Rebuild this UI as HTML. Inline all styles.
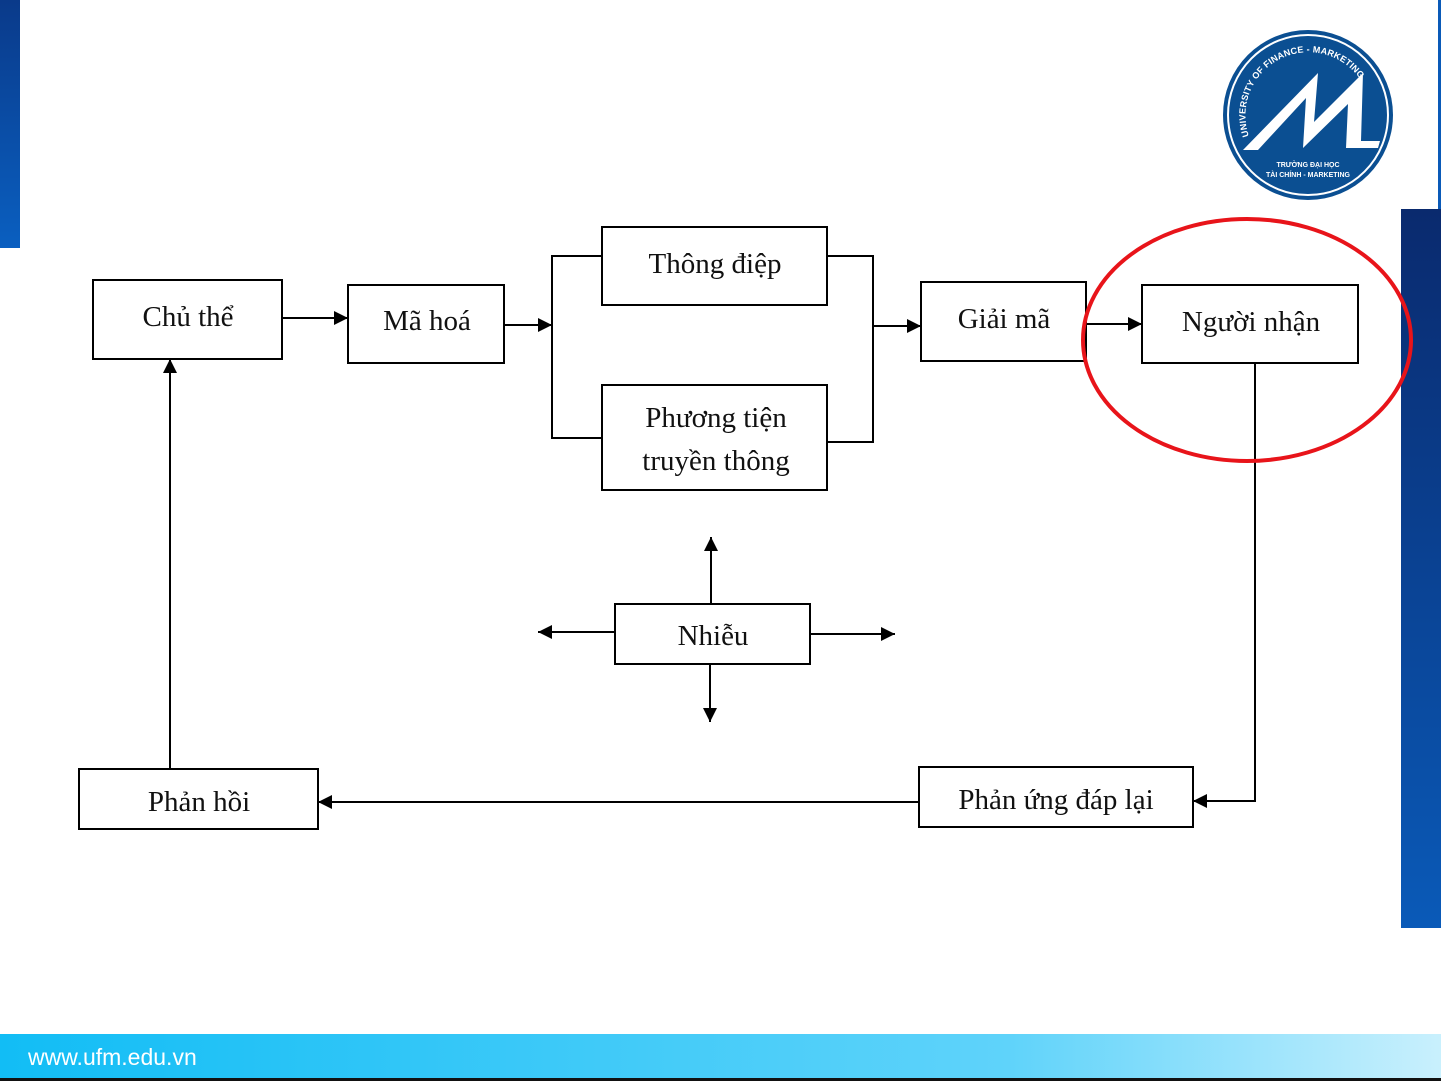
<!DOCTYPE html>
<html><head><meta charset="utf-8"><style>
html,body{margin:0;padding:0;background:#fff;}
body{width:1441px;height:1081px;overflow:hidden;position:relative;}
svg{position:absolute;left:0;top:0;}
text{font-family:"Liberation Serif","DejaVu Serif",serif;font-size:29px;fill:#111;}
</style></head><body>
<svg width="1441" height="1081" viewBox="0 0 1441 1081">
<defs>
<linearGradient id="lb" x1="0" y1="0" x2="0" y2="1"><stop offset="0" stop-color="#0a3a8a"/><stop offset="1" stop-color="#0a5fc0"/></linearGradient>
<linearGradient id="rb" x1="0" y1="0" x2="0" y2="1"><stop offset="0" stop-color="#0a2a6e"/><stop offset="1" stop-color="#0a5ab8"/></linearGradient>
<linearGradient id="bb" x1="0" y1="0" x2="1" y2="0"><stop offset="0" stop-color="#12bdf5"/><stop offset="0.7" stop-color="#5fd3fa"/><stop offset="1" stop-color="#c9f0fd"/></linearGradient>
<marker id="ah" viewBox="0 0 10 10" refX="10" refY="5" markerWidth="16" markerHeight="14" markerUnits="userSpaceOnUse" orient="auto"><path d="M0,0 L10,5 L0,10 Z" fill="#000"/></marker>
</defs>
<rect x="0" y="0" width="20" height="248" fill="url(#lb)"/>
<rect x="1438" y="0" width="3" height="210" fill="#0a5ab8"/>
<rect x="1401" y="209" width="40" height="719" fill="url(#rb)"/>
<rect x="0" y="1034" width="1441" height="44" fill="url(#bb)"/>
<rect x="0" y="1078" width="1441" height="3" fill="#111"/>
<text x="28" y="1065" style="font-family:'Liberation Sans',sans-serif;font-size:23px;fill:#fff">www.ufm.edu.vn</text>

<!-- logo -->
<circle cx="1308" cy="115" r="85" fill="#0b4f92"/>
<circle cx="1308" cy="115" r="80" fill="none" stroke="#fff" stroke-width="2"/>
<path d="M1243,150 L1318,73 L1314,122 L1363,73 L1361,141 L1380,141 L1378,148 L1346,148 L1348,104 L1303,148 L1306,98 L1258,150 Z" fill="#fff"/>
<text x="1308" y="167" text-anchor="middle" style="font-family:'Liberation Sans',sans-serif;font-size:7px;font-weight:bold;fill:#fff">TRƯỜNG ĐẠI HỌC</text>
<text x="1308" y="177" text-anchor="middle" style="font-family:'Liberation Sans',sans-serif;font-size:7px;font-weight:bold;fill:#fff">TÀI CHÍNH - MARKETING</text>
<path id="arc" d="M1249,136 A63,63 0 0 1 1360,79" fill="none"/>
<text style="font-family:'Liberation Sans',sans-serif;font-size:9px;font-weight:bold;fill:#fff"><textPath href="#arc" textLength="180" lengthAdjust="spacing">UNIVERSITY OF FINANCE - MARKETING</textPath></text>

<g fill="#fff" stroke="#000" stroke-width="2">
<rect x="93" y="280" width="189" height="79"/>
<rect x="348" y="285" width="156" height="78"/>
<rect x="602" y="227" width="225" height="78"/>
<rect x="602" y="385" width="225" height="105"/>
<rect x="921" y="282" width="165" height="79"/>
<rect x="1142" y="285" width="216" height="78"/>
<rect x="615" y="604" width="195" height="60"/>
<rect x="79" y="769" width="239" height="60"/>
<rect x="919" y="767" width="274" height="60"/>
</g>
<g stroke="#000" stroke-width="2" fill="none">
<line x1="282" y1="318" x2="348" y2="318" marker-end="url(#ah)"/>
<line x1="504" y1="325" x2="552" y2="325" marker-end="url(#ah)"/>
<polyline points="602,256 552,256 552,438 602,438"/>
<polyline points="827,256 873,256 873,442 827,442"/>
<line x1="873" y1="326" x2="921" y2="326" marker-end="url(#ah)"/>
<line x1="1086" y1="324" x2="1142" y2="324" marker-end="url(#ah)"/>
<polyline points="1255,363 1255,801 1193,801" marker-end="url(#ah)"/>
<line x1="919" y1="802" x2="318" y2="802" marker-end="url(#ah)"/>
<line x1="170" y1="769" x2="170" y2="359" marker-end="url(#ah)"/>
<line x1="711" y1="604" x2="711" y2="537" marker-end="url(#ah)"/>
<line x1="615" y1="632" x2="538" y2="632" marker-end="url(#ah)"/>
<line x1="810" y1="634" x2="895" y2="634" marker-end="url(#ah)"/>
<line x1="710" y1="664" x2="710" y2="722" marker-end="url(#ah)"/>
</g>
<ellipse cx="1247" cy="340" rx="164" ry="121" fill="none" stroke="#e8141a" stroke-width="4"/>
<g text-anchor="middle">
<text x="188" y="326">Chủ thể</text>
<text x="427" y="330">Mã hoá</text>
<text x="715" y="273">Thông điệp</text>
<text x="716" y="427">Phương tiện</text>
<text x="716" y="470">truyền thông</text>
<text x="1004" y="328">Giải mã</text>
<text x="1251" y="331">Người nhận</text>
<text x="713" y="645">Nhiễu</text>
<text x="199" y="811">Phản hồi</text>
<text x="1056" y="809">Phản ứng đáp lại</text>
</g>
</svg>
</body></html>
